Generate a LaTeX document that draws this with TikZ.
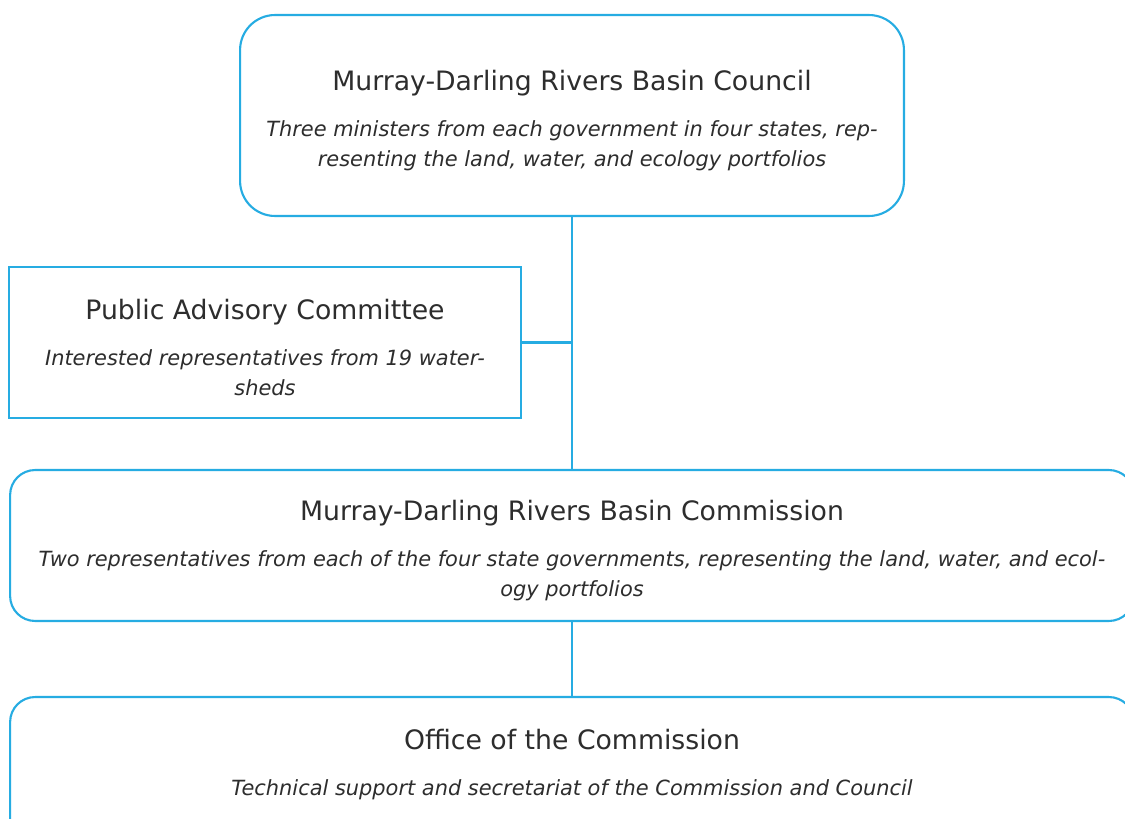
\documentclass[tikz,border=0pt]{standalone}
\usepackage{fontspec}
\setmainfont{DejaVu Sans}
\usetikzlibrary{positioning}

\definecolor{basinblue}{RGB}{38,172,226}
\definecolor{basintext}{RGB}{45,45,45}

\newcommand{\bodytitle}[1]{{\upshape\fontsize{15.2}{17}\selectfont\rule{0pt}{17pt}#1}}

\begin{document}
\begin{tikzpicture}[x=0.02cm, y=-0.02cm,
  body/.style={draw=basinblue, line width=1.2pt, fill=white, text=basintext,
    align=center, inner sep=0pt,
    font=\fontsize{11.9}{17}\selectfont\itshape},
  link/.style={draw=basinblue, line width=1.2pt}]
\path[use as bounding box, clip] (0,0) rectangle (1125,818);

\node[name=council, body, rounded corners=0.7cm, minimum width=13.28cm, minimum height=4.02cm]
  at (572,115.5) {\bodytitle{Murray-Darling Rivers Basin Council}\\[9.5pt]
  Three ministers from each government in four states, rep-\\
  resenting the land, water, and ecology portfolios};
\node[name=advisory, body, minimum width=10.24cm, minimum height=3.02cm]
  at (265,342.5) {\bodytitle{Public Advisory Committee}\\[9.5pt]
  Interested representatives from 19 water-\\
  sheds};
\node[name=commission, body, rounded corners=0.5cm, minimum width=22.48cm, minimum height=3.02cm]
  at (572,545.5) {\bodytitle{Murray-Darling Rivers Basin Commission}\\[9.5pt]
  Two representatives from each of the four state governments, representing the land, water, and ecol-\\
  ogy portfolios};
\node[name=office, body, rounded corners=0.5cm, minimum width=22.48cm, minimum height=3.02cm]
  at (572,772.5) {\bodytitle{Office of the Commission}\\[9.5pt]
  Technical support and secretariat of the Commission and Council\\[0pt]
  \phantom{x}};

\coordinate (junction) at (advisory.east -| council.south);
\draw[link] (council.south) -- (commission.north);
\draw[link] (advisory.east) -- (junction);
\draw[link] (commission.south) -- (office.north);

\end{tikzpicture}
\end{document}
